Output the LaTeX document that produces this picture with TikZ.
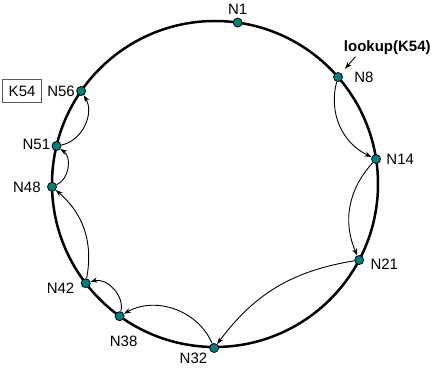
\documentclass[tikz,border=0pt]{standalone}
\usepackage{fontspec}
\setmainfont{Liberation Sans}
\usetikzlibrary{arrows.meta,positioning}
\definecolor{dotteal}{RGB}{0,128,128}

\begin{document}
\begin{tikzpicture}[->,>={Stealth[length=7pt,width=5pt]},line width=0.9pt,
    font=\fontsize{15}{18}\selectfont]

        \tikzstyle{peer}=[circle,draw=black,line width=0.8pt,fill=dotteal,inner sep=0pt,minimum size=9pt]
        \tikzstyle{tag}=[inner sep=0pt]

        \useasboundingbox (-215pt,-187pt) rectangle (218pt,184pt);
        \draw[-,line width=2.5pt] (0,0) circle (163pt);

        \node[peer] (n1)  at (82:163pt)   {};
        \node[peer] (n8)  at (41:163pt)   {};
        \node[peer] (n14) at (8.8:163pt)  {};
        \node[peer] (n21) at (-27.8:163pt) {};
        \node[peer] (n32) at (-90.3:164pt) {};
        \node[peer] (n38) at (-125.8:163pt) {};
        \node[peer] (n42) at (-142.5:163pt) {};
        \node[peer] (n48) at (181:163pt)  {};
        \node[peer] (n51) at (166.5:163pt) {};
        \node[peer] (n56) at (145.2:163pt) {};

        \node[tag] (l1)  [above=3pt of n1]  {N1};
        \node[tag] (l8)  [right=11pt of n8] {N8};
        \node[tag] (l14) [right=5pt of n14] {N14};
        \node[tag] (l21) [right=6pt of n21,yshift=-4pt] {N21};
        \node[tag] (l32) [below left=1pt and 3pt of n32] {N32};
        \node[tag] (l38) [below=14pt of n38,xshift=4pt] {N38};
        \node[tag] (l42) [left=6pt of n42,yshift=-5pt] {N42};
        \node[tag] (l48) [left=6pt of n48] {N48};
        \node[tag] (l51) [left=1pt of n51,yshift=1.5pt] {N51};
        \node[tag] (l56) [left=1pt of n56] {N56};

        \node[draw=black!65,line width=0.8pt,inner xsep=6pt,inner ysep=6.5pt] (key) [left=5pt of l56] {K54};
        \node[tag,font=\fontsize{15}{18}\selectfont\bfseries] (lk) [above right=19pt and 2pt of n8] {lookup(K54)};
        \coordinate (lkfoot) at ([xshift=12pt,yshift=-2pt]lk.south west);

        \draw[shorten >=6pt] (lkfoot) -- (n8);
        \path
        (n8)  edge [bend right=40] (n14)
        (n14) edge [bend right=33] (n21)
        (n21) edge [bend right=22] (n32)
        (n32) edge [bend right=48] (n38)
        (n38) edge [bend right=60] (n42)
        (n42) edge [bend right=30] (n48)
        (n48) edge [bend right=60] (n51)
        (n51) edge [bend right=55] (n56)
    ;
    \end{tikzpicture}
\end{document}
